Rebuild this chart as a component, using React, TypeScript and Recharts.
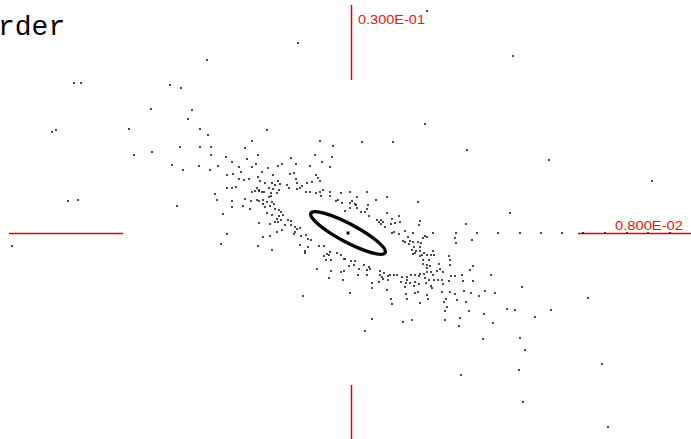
import { Customized, ReferenceLine, Scatter, ScatterChart, XAxis, YAxis } from "recharts";

// plot units: x 0..691 left→right, y 0..439 top→bottom
type Pt = [number, number];

const upperArm: Pt[] = [
  [207, 60], [74, 83], [81, 83], [170, 85], [181, 88], [151, 109], [192, 110], [188, 119],
  [129, 129], [52, 132], [56, 130], [200, 129], [208, 135], [180, 147], [200, 147], [211, 147],
  [245, 148], [134, 155], [152, 152], [211, 155], [226, 157], [247, 159], [232, 162], [172, 165],
  [183, 170], [199, 166], [210, 170], [218, 166], [239, 167], [241, 172], [227, 175], [233, 174],
  [239, 179], [244, 180], [249, 179], [227, 188], [232, 188], [236, 187], [215, 194], [217, 200],
  [232, 201], [245, 199], [68, 201], [78, 200], [177, 206], [232, 207], [243, 206], [223, 214],
  [267, 130], [227, 234], [221, 244], [258, 246], [263, 237], [270, 236], [272, 250], [12, 246],
];

const core: Pt[] = [
  [252, 141], [320, 141], [362, 142], [393, 142], [333, 146], [258, 155], [315, 155], [332, 157],
  [291, 158], [256, 164], [282, 164], [278, 166], [296, 164], [322, 162], [310, 166], [330, 167],
  [252, 167], [268, 168], [262, 172], [290, 174], [294, 173], [273, 175], [258, 177], [260, 181],
  [265, 183], [278, 181], [296, 179], [316, 175], [318, 178], [320, 181], [312, 182], [307, 183],
  [297, 183], [272, 183], [275, 185], [280, 184], [287, 185], [289, 188], [297, 189], [300, 188],
  [302, 186], [306, 192], [310, 192], [257, 188], [259, 190], [269, 188], [273, 189], [279, 190],
  [271, 193], [277, 193], [252, 192], [255, 191], [259, 191], [262, 192], [264, 192], [251, 201],
  [257, 200], [259, 201], [263, 200], [263, 204], [269, 197], [271, 196], [267, 202], [272, 202],
  [274, 204], [265, 207], [270, 206], [250, 209], [275, 209], [267, 213], [272, 215], [279, 210],
  [281, 212], [279, 216], [283, 215], [277, 219], [281, 220], [275, 222], [278, 222], [288, 220],
  [291, 221], [285, 225], [291, 225], [295, 227], [297, 229], [300, 228], [295, 232], [282, 230],
  [277, 232], [270, 224], [259, 223], [294, 234], [301, 236], [306, 235], [308, 239], [311, 240],
  [300, 245], [308, 247], [319, 246], [324, 246], [336, 201], [338, 200], [341, 193], [350, 192],
  [352, 201], [357, 197], [350, 203], [355, 204], [350, 208], [357, 208], [356, 205], [320, 192],
  [323, 190], [316, 193], [321, 196], [330, 192], [330, 196], [342, 203], [345, 211],
];

const rightOfCentre: Pt[] = [
  [367, 192], [387, 197], [376, 200], [418, 202], [368, 205], [367, 209], [365, 212], [361, 212],
  [369, 216], [387, 213], [399, 216], [377, 220], [379, 222], [381, 220], [383, 222], [381, 224],
  [392, 219], [395, 223], [400, 222], [391, 224], [385, 227], [420, 221], [419, 225], [405, 231],
  [392, 233], [394, 232], [399, 234], [413, 233], [425, 236], [433, 233], [403, 241], [405, 242],
  [408, 237], [410, 241], [413, 242], [423, 238], [427, 237], [418, 242], [409, 244], [414, 247],
  [421, 243], [420, 247], [455, 238], [456, 243], [510, 213], [466, 224], [472, 240],
];

const lowerArm: Pt[] = [
  [303, 296], [317, 269], [329, 278], [331, 271], [343, 280], [341, 272], [344, 271], [350, 293],
  [326, 260], [331, 260], [324, 256], [327, 254], [330, 252], [329, 255], [337, 253], [341, 255],
  [305, 253], [305, 251], [345, 259], [344, 259], [351, 261], [355, 261], [349, 266], [354, 265],
  [359, 269], [358, 275], [364, 265], [369, 267], [370, 269], [367, 270], [367, 275], [372, 283],
  [372, 288], [380, 271], [380, 275], [384, 273], [388, 276], [388, 280], [383, 279], [382, 277],
  [379, 282], [390, 275], [394, 275], [397, 275], [387, 290], [391, 299], [392, 304], [406, 294],
  [407, 299], [402, 277], [401, 282], [407, 277], [407, 280], [406, 283], [410, 283], [405, 287],
  [414, 286], [415, 282], [415, 293], [411, 275], [415, 275], [413, 254], [415, 253], [412, 250],
  [416, 251], [420, 256], [422, 255], [420, 251], [424, 253], [427, 255], [431, 255], [434, 255],
  [433, 251], [423, 260], [429, 260], [423, 264], [427, 265], [430, 266], [427, 268], [439, 264],
  [440, 269], [437, 271], [443, 272], [420, 274], [419, 276], [424, 274], [427, 272], [431, 272],
  [425, 278], [429, 280], [433, 275], [434, 280], [438, 280], [419, 284], [426, 283], [431, 286],
  [432, 288], [442, 280], [443, 284], [418, 292], [427, 295], [428, 299], [420, 303], [442, 292],
  [450, 292], [444, 302], [446, 299], [447, 307], [445, 311], [449, 256], [450, 260], [450, 265],
  [451, 276], [455, 276], [449, 281], [455, 294], [457, 300], [462, 275], [463, 281], [464, 291],
  [466, 302], [469, 311], [473, 266], [470, 270], [473, 281], [471, 293], [479, 296], [485, 291],
  [491, 275], [495, 293], [484, 314], [493, 323], [507, 309], [515, 310], [522, 287], [535, 317],
  [551, 310], [445, 320], [460, 318], [459, 326], [412, 320], [403, 322], [372, 319],
];

const outliers: Pt[] = [
  [298, 43], [427, 11], [513, 56], [425, 124], [467, 150], [549, 160], [652, 181],
  [588, 298], [602, 364], [608, 427], [483, 339], [520, 338], [525, 350], [519, 370],
  [461, 375], [523, 402], [365, 331],
];

const centreRow: Pt[] = [
  [456, 233], [477, 233], [498, 233], [520, 233], [541, 233], [562, 233], [583, 233],
  [605, 233], [627, 233], [648, 233], [670, 233],
];

const centre: Pt[] = [[348, 233]];
// confidence ellipse: semi-axes in plot units, tilt in degrees
const ellipseA = 42;
const ellipseB = 9;
const ellipseTilt = 28;

const crossX = 351.5;
const crossY = 233.5;
const topLabel = "0.300E-01";
const rightLabel = "0.800E-02";
const titleText = "rder";

const cloud = [...upperArm, ...core, ...rightOfCentre, ...lowerArm, ...outliers, ...centreRow].map(
  ([x, y]) => ({ x, y })
);
const centreData = centre.map(([x, y]) => ({ x, y }));

const RED = "#e00000";

const Dot = (props: any) => (
  <rect x={props.cx - 1} y={props.cy - 0.75} width={2} height={1.5} fill="#111" />
);

const EllipseShape = (props: any) => (
  <g>
    <ellipse
      cx={props.cx}
      cy={props.cy}
      rx={ellipseA}
      ry={ellipseB}
      fill="none"
      stroke="#000"
      strokeWidth={3.4}
      transform={`rotate(${ellipseTilt} ${props.cx} ${props.cy})`}
    />
    <rect x={props.cx - 1.5} y={props.cy - 1.5} width={3} height={3} fill="#000" />
  </g>
);

const Labels = () => (
  <g>
    <text x={-2} y={35} fontFamily="Liberation Mono" fontSize={28} fill="#000">
      {titleText}
    </text>
    <text
      x={358}
      y={24}
      fontFamily="Liberation Sans"
      fontSize={12}
      fill="#ee1111"
      textLength={67}
      lengthAdjust="spacingAndGlyphs"
    >
      {topLabel}
    </text>
    <text
      x={615}
      y={230}
      fontFamily="Liberation Sans"
      fontSize={12}
      fill="#ee1111"
      textLength={68}
      lengthAdjust="spacingAndGlyphs"
    >
      {rightLabel}
    </text>
  </g>
);

export default function App() {
  return (
    <div style={{ position: "fixed", left: 0, top: 0, width: 691, height: 439, background: "#fff" }}>
      <ScatterChart width={691} height={439} margin={{ top: 0, right: 0, bottom: 0, left: 0 }}>
        <XAxis type="number" dataKey="x" domain={[0, 691]} hide allowDataOverflow />
        <YAxis type="number" dataKey="y" domain={[0, 439]} reversed hide allowDataOverflow />
        <ReferenceLine segment={[{ x: crossX, y: 5 }, { x: crossX, y: 80 }]} stroke={RED} strokeWidth={1.5} />
        <ReferenceLine segment={[{ x: crossX, y: 385 }, { x: crossX, y: 439 }]} stroke={RED} strokeWidth={1.5} />
        <ReferenceLine segment={[{ x: 9, y: crossY }, { x: 123, y: crossY }]} stroke={RED} strokeWidth={1.5} />
        <ReferenceLine segment={[{ x: 578, y: crossY }, { x: 691, y: crossY }]} stroke={RED} strokeWidth={1.5} />
        <Scatter data={cloud} shape={Dot} isAnimationActive={false} />
        <Scatter data={centreData} shape={EllipseShape} isAnimationActive={false} />
        <Customized component={Labels} />
      </ScatterChart>
    </div>
  );
}
